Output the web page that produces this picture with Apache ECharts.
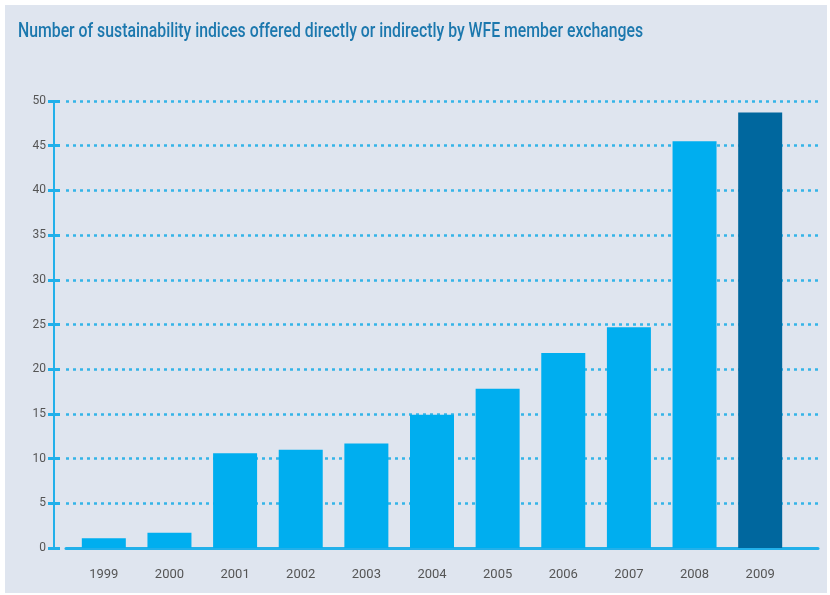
<!DOCTYPE html>
<html>
<head>
<meta charset="UTF-8">
<script src="https://cdn.jsdelivr.net/npm/echarts@6/dist/echarts.min.js"></script>
<style>
html, body { margin:0; padding:0; background:#fff; }
#chart { width:830px; height:595px; }
</style>
</head>
<body><div id="chart"></div>
<script>
// data
var years = ['1999', '2000', '2001', '2002', '2003', '2004', '2005', '2006', '2007', '2008', '2009'];
var indices = [1.1, 1.7, 10.6, 11, 11.7, 14.9, 17.8, 21.8, 24.7, 45.5, 48.7];
var yTicks = [0, 5, 10, 15, 20, 25, 30, 35, 40, 45, 50];
var latestYear = '2009';
var chartTitle = 'Number of sustainability indices offered directly or indirectly by WFE member exchanges';

var lightBlue = '#00aeef';
var darkBlue = '#00679e';
var axisBlue = '#22b0ea';
var font = 'Roboto, sans-serif';

var c = echarts.init(document.getElementById('chart'));
c.setOption({
  backgroundColor: '#fff',
  animation: false,
  graphic: [
    { type: 'rect', z: -10,
      shape: { x: 5, y: 5, width: 822, height: 588 },
      style: { fill: '#dfe5ef' } },
    // title drawn as graphic text so it can be squeezed like the condensed original
    { type: 'text', left: 18, top: 22, scaleX: 0.79, originX: 0,
      style: { text: chartTitle, fill: '#1c78ae', font: '500 20px ' + font } }
  ],
  grid: [
    { left: 60, right: 12, top: 101, bottom: 47 },  // tick marks + labels
    { left: 54, right: 12, top: 101, bottom: 47 },  // vertical axis line
    { left: 66, right: 12, top: 101, bottom: 47 },  // dotted grid + baseline
    { left: 71, right: 37, top: 101, bottom: 47 }   // bars
  ],
  xAxis: [
    { gridIndex: 0, type: 'value', show: false },
    { gridIndex: 1, type: 'value', show: false },
    { gridIndex: 2, type: 'value', min: 0, max: 1,
      axisLine: { show: true, lineStyle: { color: axisBlue, width: 3 } },
      axisTick: { show: false }, axisLabel: { show: false }, splitLine: { show: false } },
    { gridIndex: 3, type: 'category', data: years,
      axisLine: { show: false }, axisTick: { show: false },
      axisLabel: { margin: 20, color: '#555', fontFamily: font, fontSize: 13 } }
  ],
  yAxis: [
    { gridIndex: 0, type: 'value', min: 0, max: 50, interval: 5,
      axisLine: { show: false },
      axisTick: { show: true, length: 12, lineStyle: { color: axisBlue, width: 3 } },
      axisLabel: { margin: 14, color: '#555', fontFamily: font, fontSize: 12,
        formatter: function (v) { return yTicks.indexOf(v) >= 0 ? String(v) : ''; } },
      splitLine: { show: false } },
    { gridIndex: 1, type: 'value', min: 0, max: 50, interval: 5,
      axisLine: { show: true, lineStyle: { color: axisBlue, width: 2 } },
      axisTick: { show: false }, axisLabel: { show: false }, splitLine: { show: false } },
    { gridIndex: 2, type: 'value', min: 0, max: 50, interval: 5,
      axisLine: { show: false }, axisTick: { show: false }, axisLabel: { show: false },
      splitLine: { show: true, lineStyle: { color: '#35b4e8', width: 2.5, type: [3, 4] } } },
    { gridIndex: 3, type: 'value', min: 0, max: 50, interval: 5, show: false }
  ],
  series: [{
    type: 'bar',
    xAxisIndex: 3, yAxisIndex: 3,
    barWidth: 44,
    z: 5,
    data: years.map(function (y, i) {
      return { value: indices[i], itemStyle: { color: y === latestYear ? darkBlue : lightBlue } };
    })
  }]
});
</script>
</body></html>
